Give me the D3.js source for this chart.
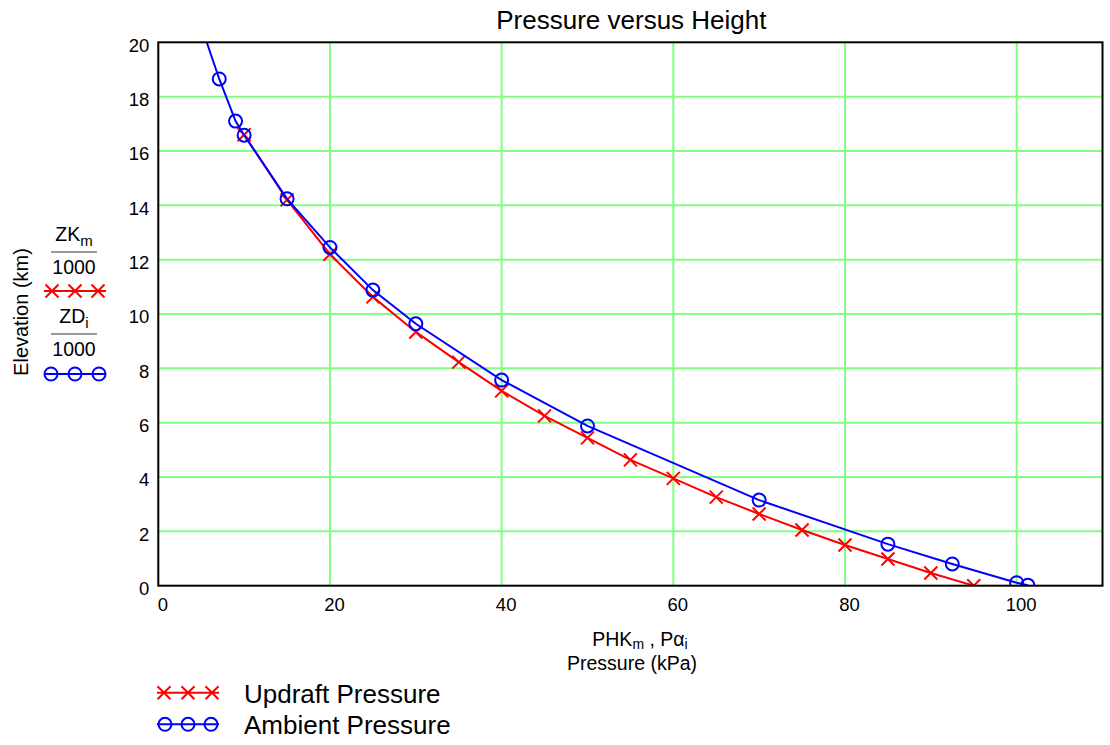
<!DOCTYPE html>
<html lang="en">
<head>
<meta charset="UTF-8">
<title>Pressure versus Height</title>
<style>
  body { margin: 0; background: #fff; }
  text { font-family: "Liberation Sans", Arial, sans-serif; fill: #000; }
</style>
</head>
<body>
<script src="https://d3js.org/d3.v7.min.js"></script>
<div id="chart"></div>
<script>
// updraft trace (red crosses): pressure in kPa, elevation in km
const updraftPressure = [10, 15, 20, 25, 30, 35, 40, 45, 50, 55, 60, 65, 70, 75, 80, 85, 90, 95]
const updraftElev = [16.6, 14.2, 12.2, 10.63, 9.34, 8.23, 7.17, 6.25, 5.44, 4.63, 3.95, 3.26, 2.64, 2.05, 1.5, 0.98, 0.47, 0]

// ambient trace (blue circles), first point lies above the plot and gets clipped
const ambientPressure = [5.0, 7.1, 9.0, 10, 15, 20, 25, 30, 40, 50, 70, 85, 92.5, 100, 101.3]
const ambientElev = [20.6, 18.65, 17.1, 16.58, 14.24, 12.45, 10.88, 9.64, 7.57, 5.88, 3.15, 1.53, 0.8, 0.11, 0.02]

const xTicks = [0, 20, 40, 60, 80, 100]
const yTicks = [0, 2, 4, 6, 8, 10, 12, 14, 16, 18, 20]

const updraft = updraftPressure.map((p, i) => ({p: p, z: updraftElev[i]}))
const ambient = ambientPressure.map((p, i) => ({p: p, z: ambientElev[i]}))

const W = 1110, H = 745
const plot = {left: 158.3, right: 1102.5, top: 42.3, bottom: 585.7}

const x = d3.scaleLinear().domain([0, 110]).range([plot.left, plot.right])
const y = d3.scaleLinear().domain([0, 20]).range([plot.bottom, plot.top])

const svg = d3.select('#chart')
  .append('svg')
  .attr('width', W)
  .attr('height', H)

svg.append('defs').append('clipPath')
  .attr('id', 'clip')
  .append('rect')
  .attr('x', plot.left)
  .attr('y', plot.top)
  .attr('width', plot.right - plot.left)
  .attr('height', plot.bottom - plot.top)

// grid ======================================================================
const green = '#80ff80'
svg.append('g')
  .selectAll('line')
  .data(xTicks.slice(1))
  .join('line')
  .attr('x1', d => x(d)).attr('x2', d => x(d))
  .attr('y1', plot.top).attr('y2', plot.bottom)
  .attr('stroke', green).attr('stroke-width', 2)

svg.append('g')
  .selectAll('line')
  .data(yTicks.slice(1, -1))
  .join('line')
  .attr('x1', plot.left).attr('x2', plot.right)
  .attr('y1', d => y(d)).attr('y2', d => y(d))
  .attr('stroke', green).attr('stroke-width', 2)

// axes labels ===============================================================
const xAxis = svg.append('g')
  .attr('transform', `translate(0, ${plot.bottom})`)
  .call(d3.axisBottom(x).tickValues(xTicks).tickSize(0).tickPadding(12))
xAxis.select('.domain').remove()
xAxis.selectAll('text')
  .attr('x', 4)
  .style('font-size', '18.5px')
  .style('font-family', '"Liberation Sans", Arial, sans-serif')

const yAxis = svg.append('g')
  .attr('transform', `translate(${plot.left}, 0)`)
  .call(d3.axisLeft(y).tickValues(yTicks).tickSize(0).tickPadding(9))
yAxis.select('.domain').remove()
yAxis.selectAll('text')
  .attr('y', 3)
  .style('font-size', '18.5px')
  .style('font-family', '"Liberation Sans", Arial, sans-serif')

// traces ====================================================================
const line = d3.line().x(d => x(d.p)).y(d => y(d.z))
const traces = svg.append('g').attr('clip-path', 'url(#clip)')
const cross = d3.symbol(d3.symbolTimes).size(112)

traces.append('path')
  .datum(updraft)
  .attr('d', line)
  .attr('fill', 'none')
  .attr('stroke', 'red')
  .attr('stroke-width', 2)

traces.append('g')
  .selectAll('path')
  .data(updraft)
  .join('path')
  .attr('transform', d => `translate(${x(d.p)}, ${y(d.z)})`)
  .attr('d', cross)
  .attr('fill', 'none')
  .attr('stroke', 'red')
  .attr('stroke-width', 2)

traces.append('path')
  .datum(ambient)
  .attr('d', line)
  .attr('fill', 'none')
  .attr('stroke', 'blue')
  .attr('stroke-width', 2)

traces.append('g')
  .selectAll('circle')
  .data(ambient)
  .join('circle')
  .attr('cx', d => x(d.p))
  .attr('cy', d => y(d.z))
  .attr('r', 6.5)
  .attr('fill', 'none')
  .attr('stroke', 'blue')
  .attr('stroke-width', 2)

// frame
svg.append('rect')
  .attr('x', plot.left)
  .attr('y', plot.top)
  .attr('width', plot.right - plot.left)
  .attr('height', plot.bottom - plot.top)
  .attr('fill', 'none')
  .attr('stroke', '#000')
  .attr('stroke-width', 2)

// titles ====================================================================
svg.append('text')
  .attr('x', (plot.left + plot.right) / 2 + 1)
  .attr('y', 29)
  .attr('text-anchor', 'middle')
  .style('font-size', '26px')
  .text('Pressure versus Height')

const xName = svg.append('text')
  .attr('x', 640)
  .attr('y', 646)
  .attr('text-anchor', 'middle')
  .style('font-size', '19.5px')
xName.append('tspan').text('PHK')
xName.append('tspan').attr('dy', 3).style('font-size', '14px').text('m')
xName.append('tspan').attr('dy', -3).text(' , P\u03b1')
xName.append('tspan').attr('dy', 3).style('font-size', '14px').text('i')

svg.append('text')
  .attr('x', 632)
  .attr('y', 670)
  .attr('text-anchor', 'middle')
  .style('font-size', '19.5px')
  .text('Pressure (kPa)')

svg.append('text')
  .attr('transform', 'translate(28, 312) rotate(-90)')
  .attr('text-anchor', 'middle')
  .style('font-size', '20px')
  .text('Elevation (km)')

// left legend (fractions) ===================================================
function fraction(top, sub, baseY) {
  const t = svg.append('text')
    .attr('x', 74)
    .attr('y', baseY)
    .attr('text-anchor', 'middle')
    .style('font-size', '19.5px')
  t.append('tspan').text(top)
  t.append('tspan').attr('dy', 5).style('font-size', '15px').text(sub)
  svg.append('line')
    .attr('x1', 51).attr('x2', 97)
    .attr('y1', baseY + 11).attr('y2', baseY + 11)
    .attr('stroke', '#777').attr('stroke-width', 1.5)
  svg.append('text')
    .attr('x', 74)
    .attr('y', baseY + 33)
    .attr('text-anchor', 'middle')
    .style('font-size', '19.5px')
    .text('1000')
}

function legendLine(x1, x2, ly, marks, kind) {
  const g = svg.append('g')
  const colour = kind === 'cross' ? 'red' : 'blue'
  g.append('line')
    .attr('x1', x1).attr('x2', x2)
    .attr('y1', ly).attr('y2', ly)
    .attr('stroke', colour).attr('stroke-width', 2)
  if (kind === 'cross') {
    g.selectAll('path').data(marks).join('path')
      .attr('transform', d => `translate(${d}, ${ly})`)
      .attr('d', cross)
      .attr('fill', 'none').attr('stroke', colour).attr('stroke-width', 2)
  } else {
    g.selectAll('circle').data(marks).join('circle')
      .attr('cx', d => d).attr('cy', ly).attr('r', 6.5)
      .attr('fill', 'none').attr('stroke', colour).attr('stroke-width', 2)
  }
}

fraction('ZK', 'm', 241)
legendLine(44, 106, 291, [52, 75, 98], 'cross')
fraction('ZD', 'i', 323)
legendLine(44, 106, 374, [51, 75, 99], 'circle')

// bottom legend =============================================================
legendLine(157, 219, 692.7, [164, 188, 212], 'cross')
svg.append('text').attr('x', 244).attr('y', 703).style('font-size', '26px').text('Updraft Pressure')
legendLine(157, 219, 724.3, [165, 188, 211], 'circle')
svg.append('text').attr('x', 244).attr('y', 734).style('font-size', '26px').text('Ambient Pressure')
</script>
</body>
</html>
